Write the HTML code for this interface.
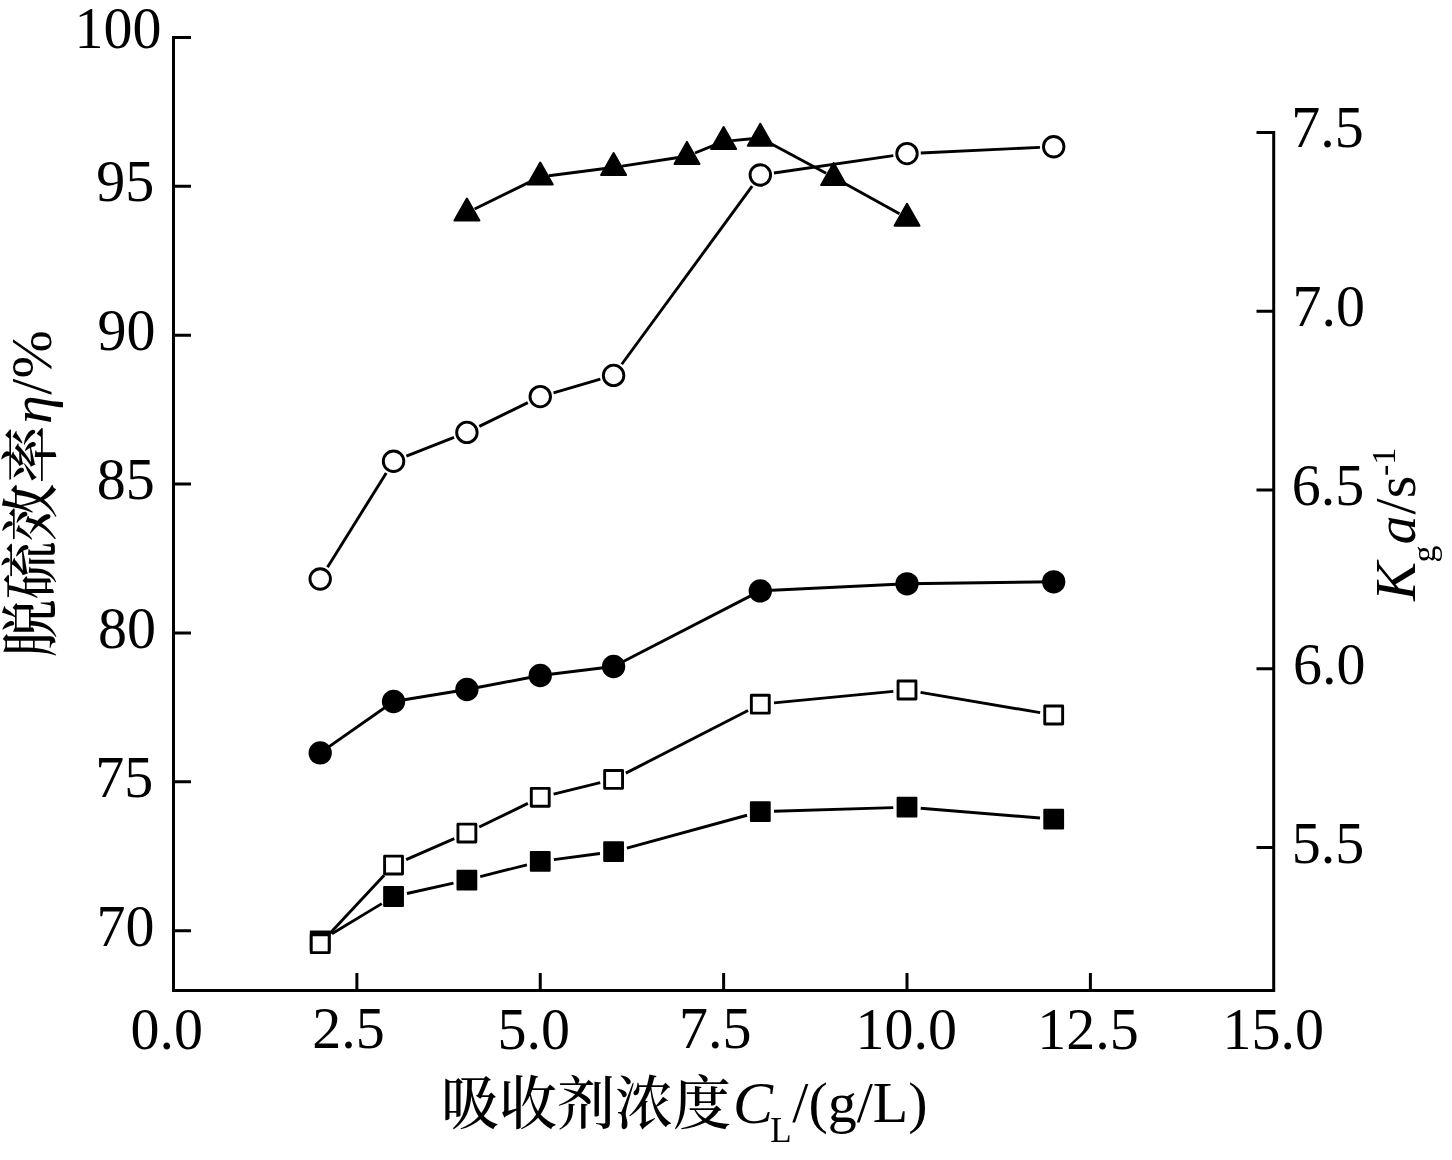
<!DOCTYPE html>
<html><head><meta charset="utf-8"><title>chart</title>
<style>html,body{margin:0;padding:0;background:#fff;} svg{display:block;}</style>
</head><body>
<svg width="1452" height="1160" viewBox="0 0 1452 1160">
<rect width="1452" height="1160" fill="#fff"/>
<path d="M173.5 37.5 V990.5 H1273.7 V132.5" fill="none" stroke="#000" stroke-width="3" stroke-linejoin="miter" stroke-linecap="square"/><path d="M172 37.40 H191 M172 186.28 H191 M172 335.17 H191 M172 484.05 H191 M172 632.94 H191 M172 781.82 H191 M172 930.71 H191 M1256.5 132.50 H1275 M1256.5 311.25 H1275 M1256.5 490.00 H1275 M1256.5 668.75 H1275 M1256.5 847.50 H1275 M356.88 973 V990 M540.25 973 V990 M723.62 973 V990 M907.00 973 V990 M1090.38 973 V990" fill="none" stroke="#000" stroke-width="3"/>
<g stroke="#000" stroke-width="2.9" stroke-linecap="butt" fill="none"><line x1="331.96" y1="933.78" x2="381.79" y2="903.62"/><line x1="406.97" y1="893.50" x2="453.48" y2="883.10"/><line x1="480.22" y1="876.70" x2="526.93" y2="864.80"/><line x1="553.88" y1="859.60" x2="599.97" y2="853.50"/><line x1="626.86" y1="848.07" x2="747.04" y2="815.23"/><line x1="774.04" y1="811.19" x2="893.26" y2="807.61"/><line x1="920.70" y1="808.31" x2="1040.00" y2="817.99"/></g><g fill="#000" stroke="#000" stroke-width="2" stroke-linejoin="round"><rect x="310.80" y="931.50" width="18.8" height="18.8"/><rect x="384.15" y="887.10" width="18.8" height="18.8"/><rect x="457.50" y="870.70" width="18.8" height="18.8"/><rect x="530.85" y="852.00" width="18.8" height="18.8"/><rect x="604.20" y="842.30" width="18.8" height="18.8"/><rect x="750.90" y="802.20" width="18.8" height="18.8"/><rect x="897.60" y="797.80" width="18.8" height="18.8"/><rect x="1044.30" y="809.70" width="18.8" height="18.8"/></g>
<g stroke="#000" stroke-width="2.9" stroke-linecap="butt" fill="none"><line x1="329.58" y1="933.65" x2="384.17" y2="875.15"/><line x1="406.15" y1="859.60" x2="454.30" y2="838.60"/><line x1="479.26" y1="827.07" x2="527.89" y2="803.33"/><line x1="553.61" y1="794.04" x2="600.24" y2="782.66"/><line x1="625.84" y1="773.13" x2="748.06" y2="710.47"/><line x1="773.99" y1="702.88" x2="893.31" y2="691.32"/><line x1="920.55" y1="692.31" x2="1040.15" y2="712.69"/></g><g fill="#fff" stroke="#000" stroke-width="2.9" stroke-linejoin="round"><rect x="311.25" y="934.75" width="17.9" height="17.9"/><rect x="384.60" y="856.15" width="17.9" height="17.9"/><rect x="457.95" y="824.15" width="17.9" height="17.9"/><rect x="531.30" y="788.35" width="17.9" height="17.9"/><rect x="604.65" y="770.45" width="17.9" height="17.9"/><rect x="751.35" y="695.25" width="17.9" height="17.9"/><rect x="898.05" y="681.05" width="17.9" height="17.9"/><rect x="1044.75" y="706.05" width="17.9" height="17.9"/></g>
<g stroke="#000" stroke-width="2.9" stroke-linecap="butt" fill="none"><line x1="320.20" y1="752.90" x2="393.55" y2="701.50"/><line x1="393.55" y1="701.50" x2="466.90" y2="689.50"/><line x1="466.90" y1="689.50" x2="540.25" y2="675.50"/><line x1="540.25" y1="675.50" x2="613.60" y2="666.50"/><line x1="613.60" y1="666.50" x2="760.30" y2="590.90"/><line x1="760.30" y1="590.90" x2="907.00" y2="583.80"/><line x1="907.00" y1="583.80" x2="1053.70" y2="581.80"/></g><g fill="#000"><circle cx="320.20" cy="752.90" r="11.65"/><circle cx="393.55" cy="701.50" r="11.65"/><circle cx="466.90" cy="689.50" r="11.65"/><circle cx="540.25" cy="675.50" r="11.65"/><circle cx="613.60" cy="666.50" r="11.65"/><circle cx="760.30" cy="590.90" r="11.65"/><circle cx="907.00" cy="583.80" r="11.65"/><circle cx="1053.70" cy="581.80" r="11.65"/></g>
<g stroke="#000" stroke-width="2.9" stroke-linecap="butt" fill="none"><line x1="474.62" y1="209.02" x2="532.53" y2="180.63"/><line x1="548.78" y1="175.75" x2="605.07" y2="168.50"/><line x1="622.10" y1="166.10" x2="678.45" y2="157.50"/><line x1="694.93" y1="152.98" x2="715.65" y2="144.62"/><line x1="732.19" y1="140.61" x2="751.74" y2="138.79"/><line x1="767.88" y1="142.07" x2="826.07" y2="173.28"/><line x1="841.17" y1="181.52" x2="899.48" y2="213.83"/></g><g fill="#000" stroke="#000" stroke-width="2" stroke-linejoin="round"><polygon points="466.90,198.50 454.40,220.50 479.40,220.50"/><polygon points="540.25,162.55 527.75,184.55 552.75,184.55"/><polygon points="613.60,153.10 601.10,175.10 626.10,175.10"/><polygon points="686.95,141.90 674.45,163.90 699.45,163.90"/><polygon points="723.62,127.10 711.12,149.10 736.12,149.10"/><polygon points="760.30,123.70 747.80,145.70 772.80,145.70"/><polygon points="833.65,163.05 821.15,185.05 846.15,185.05"/><polygon points="907.00,203.70 894.50,225.70 919.50,225.70"/></g>
<g stroke="#000" stroke-width="2.9" stroke-linecap="butt" fill="none"><line x1="327.49" y1="567.33" x2="386.26" y2="472.92"/><line x1="406.40" y1="456.16" x2="454.05" y2="437.44"/><line x1="479.30" y1="426.35" x2="527.85" y2="402.65"/><line x1="553.51" y1="392.77" x2="600.34" y2="379.23"/><line x1="621.75" y1="364.26" x2="752.15" y2="186.14"/><line x1="773.96" y1="173.01" x2="893.34" y2="155.59"/><line x1="920.78" y1="152.95" x2="1039.92" y2="147.35"/></g><g fill="#fff" stroke="#000" stroke-width="2.9"><circle cx="320.20" cy="579.05" r="10.25"/><circle cx="393.55" cy="461.20" r="10.25"/><circle cx="466.90" cy="432.40" r="10.25"/><circle cx="540.25" cy="396.60" r="10.25"/><circle cx="613.60" cy="375.40" r="10.25"/><circle cx="760.30" cy="175.00" r="10.25"/><circle cx="907.00" cy="153.60" r="10.25"/><circle cx="1053.70" cy="146.70" r="10.25"/></g>
<g font-family='"Liberation Serif", "Times New Roman", serif' font-size="58" fill="#000"><text x="74.46" y="47.90" transform="matrix(1 0 0 1.03 0 -0.867)">100</text><text x="96.25" y="200.77" transform="matrix(1 0 0 1.03 0 -5.456)">95</text><text x="97.48" y="349.70" transform="matrix(1 0 0 1.03 0 -9.921)">90</text><text x="96.68" y="498.48" transform="matrix(1 0 0 1.03 0 -14.384)">85</text><text x="97.98" y="647.45" transform="matrix(1 0 0 1.03 0 -18.854)">80</text><text x="95.32" y="796.46" transform="matrix(1 0 0 1.03 0 -23.333)">75</text><text x="96.62" y="945.55" transform="matrix(1 0 0 1.03 0 -27.797)">70</text><text x="1291.17" y="146.91" transform="matrix(1 0 0 1.03 0 -3.850)">7.5</text><text x="1292.44" y="325.78" transform="matrix(1 0 0 1.03 0 -9.207)">7.0</text><text x="1291.74" y="504.64" transform="matrix(1 0 0 1.03 0 -14.576)">6.5</text><text x="1293.01" y="683.35" transform="matrix(1 0 0 1.03 0 -19.934)">6.0</text><text x="1291.75" y="862.18" transform="matrix(1 0 0 1.03 0 -25.308)">5.5</text><text x="130.52" y="1048.24" transform="matrix(1 0 0 1.03 0 -30.881)">0.0</text><text x="312.26" y="1047.94" transform="matrix(1 0 0 1.03 0 -30.875)">2.5</text><text x="497.57" y="1048.13" transform="matrix(1 0 0 1.03 0 -30.878)">5.0</text><text x="678.92" y="1047.83" transform="matrix(1 0 0 1.03 0 -30.878)">7.5</text><text x="855.49" y="1048.13" transform="matrix(1 0 0 1.03 0 -30.878)">10.0</text><text x="1037.38" y="1048.04" transform="matrix(1 0 0 1.03 0 -30.878)">12.5</text><text x="1222.61" y="1048.08" transform="matrix(1 0 0 1.03 0 -30.876)">15.0</text><text y="1122.3" font-size="58"><tspan x="441" y="1123.8" font-family='"Liberation Serif", "Noto Serif CJK SC", serif' font-weight="500">吸收剂浓度</tspan><tspan x="733.0" y="1122.5" font-style="italic" font-size="60">C</tspan><tspan x="770.3" y="1141.7" font-size="35">L</tspan><tspan x="792.3" y="1122.3">/(g/L)</tspan></text><text transform="translate(51.2 657.5) rotate(-90)" font-size="58"><tspan x="0" y="0" font-family='"Liberation Serif", "Noto Serif CJK SC", serif' font-weight="500">脱硫效率</tspan><tspan x="233.6" y="0" font-style="italic">η</tspan><tspan x="262.8" y="0">/%</tspan></text><text transform="translate(1415 600.7) rotate(-90)" font-size="58"><tspan x="0" y="0" font-style="italic">K</tspan><tspan x="38.2" y="19.5" font-size="34">g</tspan><tspan x="56.1" y="0" font-style="italic">a</tspan><tspan x="86.3" y="0">/s</tspan><tspan x="124.6" y="-20" font-size="34">-1</tspan></text></g>
</svg>
</body></html>
